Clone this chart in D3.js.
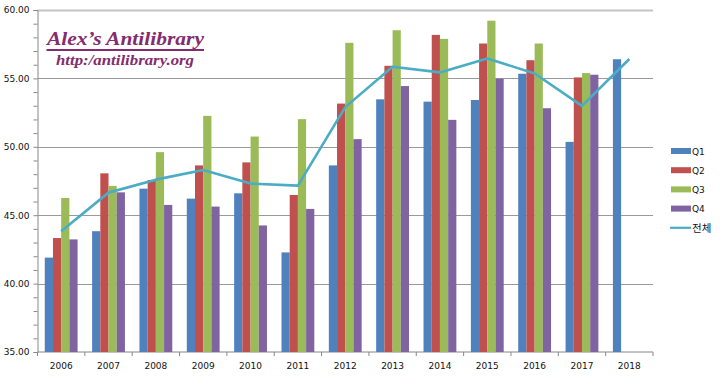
<!DOCTYPE html>
<html>
<head>
<meta charset="utf-8">
<script src="https://cdn.jsdelivr.net/npm/d3@7/dist/d3.min.js"></script>
<style>
  body { margin: 0; background: #fff; }
</style>
</head>
<body>
<div id="chart"></div>
<script>
var years = ["2006", "2007", "2008", "2009", "2010", "2011", "2012", "2013", "2014", "2015", "2016", "2017", "2018"];
var quarters = ["Q1", "Q2", "Q3", "Q4"];
var q1 = [41.90, 43.83, 46.94, 46.21, 46.60, 42.28, 48.64, 53.47, 53.30, 53.42, 55.34, 50.36, 56.40];
var q2 = [43.33, 48.06, 47.57, 48.64, 48.86, 46.48, 53.16, 55.92, 58.18, 57.55, 56.33, 55.07, null];
var q3 = [46.26, 47.14, 49.61, 52.26, 50.75, 52.02, 57.60, 58.52, 57.89, 59.22, 57.55, 55.39, null];
var q4 = [43.23, 46.67, 45.75, 45.63, 44.25, 45.46, 50.56, 54.44, 51.97, 54.98, 52.82, 55.27, null];
var total = [43.83, 46.65, 47.60, 48.30, 47.31, 47.16, 52.90, 55.85, 55.44, 56.46, 55.36, 52.99, 56.42];
var yTicks = [35, 40, 45, 50, 55, 60];
var lineName = "전체";

var colors = ["#4f81bd", "#c0504d", "#9bbb59", "#8064a2"];
var lineColor = "#4bacc6";

var width = 720, height = 376;
var margin = { top: 10, left: 37.5, right: 67, bottom: 24 };

var svg = d3.select("#chart")
    .append("svg")
    .attr("width", width)
    .attr("height", height)
    .style("font-family", "'DejaVu Sans', sans-serif");

var x = d3.scaleBand()
    .domain(years)
    .range([margin.left, width - margin.right])
    .paddingInner(0)
    .paddingOuter(0);

var xq = d3.scaleBand()
    .domain(quarters)
    .range([0, x.bandwidth()])
    .paddingInner(0)
    .paddingOuter(0.885);

var y = d3.scaleLinear()
    .domain([35, 60])
    .range([height - margin.bottom, margin.top]);

// gridlines
svg.append("g")
    .selectAll("line")
    .data(yTicks.slice(1))
    .enter()
    .append("line")
    .attr("x1", margin.left)
    .attr("x2", width - margin.right)
    .attr("y1", function (d) { return Math.round(y(d)) + 0.5; })
    .attr("y2", function (d) { return Math.round(y(d)) + 0.5; })
    .attr("stroke", function (d) { return d === 60 ? "#c4c4c4" : "#9a9a9a"; })
    .attr("stroke-width", function (d) { return d === 60 ? 2 : 1.2; });

// y axis
var yAxis = d3.axisLeft(y)
    .tickValues(d3.range(35, 60.01, 1))
    .tickSize(4)
    .tickFormat(function (d) { return d % 5 === 0 ? d3.format(".2f")(d) : ""; });

var gy = svg.append("g")
    .attr("transform", "translate(" + margin.left + ",0)")
    .call(yAxis);
gy.select(".domain").attr("stroke", "#888");
gy.selectAll(".tick line").attr("stroke", "#888");
gy.selectAll(".tick text")
    .attr("x", -8)
    .attr("font-size", 9)
    .attr("font-family", "DejaVu Sans")
    .attr("fill", "#111");

// x axis
var gx = svg.append("g")
    .attr("transform", "translate(0," + y(35) + ")");
gx.append("line")
    .attr("x1", margin.left)
    .attr("x2", width - margin.right)
    .attr("stroke", "#888");
gx.selectAll(".bound")
    .data(years.concat(["end"]))
    .enter()
    .append("line")
    .attr("x1", function (d, i) { return margin.left + i * x.step(); })
    .attr("x2", function (d, i) { return margin.left + i * x.step(); })
    .attr("y1", 0)
    .attr("y2", 4)
    .attr("stroke", "#888");
gx.selectAll("text")
    .data(years)
    .enter()
    .append("text")
    .attr("x", function (d) { return x(d) + x.bandwidth() / 2; })
    .attr("y", 17)
    .attr("text-anchor", "middle")
    .attr("font-size", 9)
    .attr("fill", "#111")
    .text(function (d) { return d; });

// bars
var series = [q1, q2, q3, q4];
series.forEach(function (vals, si) {
    svg.append("g")
        .selectAll("rect")
        .data(years.map(function (yr, i) { return { year: yr, v: vals[i] }; })
            .filter(function (d) { return d.v !== null; }))
        .enter()
        .append("rect")
        .attr("x", function (d) { return x(d.year) + xq(quarters[si]); })
        .attr("width", xq.bandwidth())
        .attr("y", function (d) { return y(d.v); })
        .attr("height", function (d) { return y(35) - y(d.v); })
        .attr("fill", colors[si]);
});

// total line
var line = d3.line()
    .x(function (d, i) { return x(years[i]) + x.bandwidth() / 2; })
    .y(function (d) { return y(d); });

svg.append("path")
    .datum(total)
    .attr("d", line)
    .attr("fill", "none")
    .attr("stroke", lineColor)
    .attr("stroke-width", 2.6)
    .attr("stroke-linejoin", "round");

// legend
var legend = svg.append("g").attr("transform", "translate(671,151)");
quarters.forEach(function (q, i) {
    legend.append("rect")
        .attr("x", 0)
        .attr("y", i * 19.2 - 3)
        .attr("width", 20)
        .attr("height", 6)
        .attr("fill", colors[i]);
    legend.append("text")
        .attr("x", 21)
        .attr("y", i * 19.2 + 3.5)
        .attr("font-size", 9)
        .attr("fill", "#111")
        .text(q);
});
legend.append("line")
    .attr("x1", -1)
    .attr("x2", 20)
    .attr("y1", 4 * 19.2)
    .attr("y2", 4 * 19.2)
    .attr("stroke", lineColor)
    .attr("stroke-width", 2.2);
legend.append("text")
    .attr("x", 21)
    .attr("y", 4 * 19.2 + 4)
    .attr("font-size", 10.5)
    .attr("fill", "#111")
    .style("font-family", "'Noto Sans CJK KR', sans-serif")
    .text(lineName);

// watermark
var wm = svg.append("g")
    .style("font-family", "'Liberation Serif', serif")
    .style("font-style", "italic")
    .style("font-weight", "bold");
wm.append("text")
    .attr("x", 47)
    .attr("y", 45)
    .attr("font-size", 19)
    .attr("fill", "#842c6e")
    .attr("textLength", 157)
    .attr("lengthAdjust", "spacingAndGlyphs")
    .text("Alex’s Antilibrary");
wm.append("line")
    .attr("x1", 46.5)
    .attr("x2", 204)
    .attr("y1", 50)
    .attr("y2", 50)
    .attr("stroke", "#842c6e")
    .attr("stroke-width", 1.8);
wm.append("text")
    .attr("x", 56)
    .attr("y", 65)
    .attr("font-size", 15)
    .attr("fill", "#842c6e")
    .attr("textLength", 138)
    .attr("lengthAdjust", "spacingAndGlyphs")
    .text("http:/antilibrary.org");
</script>
</body>
</html>
